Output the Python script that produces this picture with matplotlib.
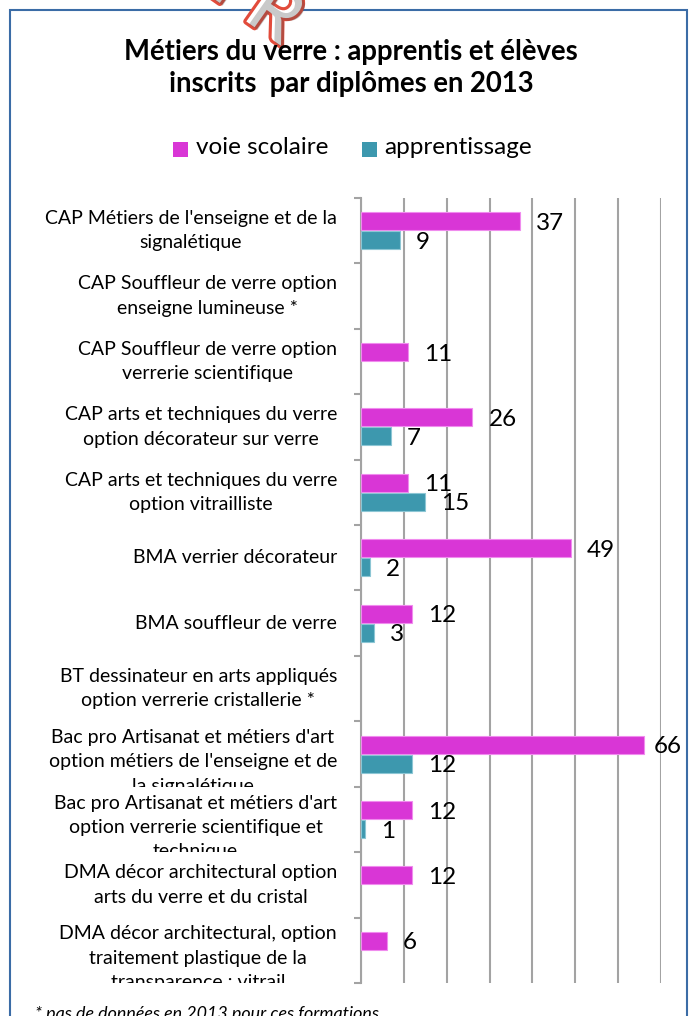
import matplotlib
matplotlib.use("Agg")
import matplotlib.pyplot as plt
import matplotlib.transforms as mtransforms
import matplotlib.patheffects as pe
from matplotlib.patches import Rectangle

plt.rcParams['font.family'] = ['Lato', 'DejaVu Sans']

# diplomas, top to bottom
diplomes = [
    "CAP Métiers de l'enseigne et de la\nsignalétique",
    "CAP Souffleur de verre option\nenseigne lumineuse *",
    "CAP Souffleur de verre option\nverrerie scientifique",
    "CAP arts et techniques du verre\noption décorateur sur verre",
    "CAP arts et techniques du verre\noption vitrailliste",
    "BMA verrier décorateur",
    "BMA souffleur de verre",
    "BT dessinateur en arts appliqués\noption verrerie cristallerie *",
    "Bac pro Artisanat et métiers d'art\noption métiers de l'enseigne et de\nla signalétique",
    "Bac pro Artisanat et métiers d'art\noption verrerie scientifique et\ntechnique",
    "DMA décor architectural option\narts du verre et du cristal",
    "DMA décor architectural, option\ntraitement plastique de la\ntransparence : vitrail",
]
voie_scolaire = [37, None, 11, 26, 11, 49, 12, None, 66, 12, 12, 6]
apprentissage = [9, None, None, 7, 15, 2, 3, None, 12, 1, None, None]

PINK = '#D936D6'
TEAL = '#3D98AE'
W, H = 690, 1016
AX_L, AX_R, AX_T, AX_B = 361, 661, 198, 983
XMAX = 70

fig = plt.figure(figsize=(W / 100, H / 100), dpi=100)

def fx(px):
    return px / W

def fy(py):
    return 1 - py / H

# chart frame
fig.patches.append(Rectangle((fx(10), fy(1030)), fx(687) - fx(10), fy(10) - fy(1030),
                             transform=fig.transFigure, fill=False,
                             edgecolor='#3B6CA6', lw=1.5, zorder=0))

# logo partly out of frame at the top
fig.text(fx(256), fy(2), "FR", fontsize=54, fontweight='bold', color='white',
         rotation=-35, ha='center', va='center', zorder=1,
         path_effects=[pe.withStroke(linewidth=4.5, foreground='#E24B3B'),
                       pe.SimplePatchShadow(offset=(2, -2), alpha=0.3)])

# title
fig.text(fx(351), fy(68), "Métiers du verre : apprentis et élèves\ninscrits  par diplômes en 2013",
         fontsize=19.8, fontweight='bold', ha='center', va='center', linespacing=1.25)

# legend
leg_y = fy(147)
for sx, tx, col, lab in [(173, 196, PINK, "voie scolaire"), (362, 384, TEAL, "apprentissage")]:
    fig.patches.append(Rectangle((fx(sx), fy(157)), fx(15), 15 / H,
                                 transform=fig.transFigure, facecolor=col, edgecolor='none'))
    fig.text(fx(tx), leg_y, lab, fontsize=17.5, ha='left', va='center')

# plot area
ax = fig.add_axes([fx(AX_L), fy(AX_B), fx(AX_R) - fx(AX_L), (AX_B - AX_T) / H])
n = len(diplomes)
bar_h = 0.275
px_per_unit = (AX_R - AX_L) / XMAX


def value_label(v, y):
    # labels sit 16 px right of the bar, pulled back if they would leave the frame
    end_px = AX_L + v * px_per_unit
    off_px = min(16, 654 - end_px)
    ax.annotate(str(v), (v, y), xytext=(off_px * 0.72, -1.5), textcoords='offset points',
                ha='left', va='center', fontsize=17.5, zorder=4)


for i in range(n):
    s = voie_scolaire[i]
    a = apprentissage[i]
    if s is not None:
        ax.barh(i - 0.145, s, height=bar_h, color=PINK, edgecolor='#F08CEE', lw=0.8, zorder=3)
        value_label(s, i - 0.145)
    if a is not None:
        ax.barh(i + 0.145, a, height=bar_h, color=TEAL, edgecolor='#8CC6D4', lw=0.8, zorder=3)
        value_label(a, i + 0.145)

ax.set_xlim(0, XMAX)
ax.set_ylim(n - 0.5, -0.5)
ax.set_xticks(range(0, XMAX + 1, 10))
ax.grid(axis='x', color='#A3A3A3', lw=1.5, zorder=1)
ax.tick_params(axis='x', length=0, labelbottom=False)
ax.set_yticks([k - 0.5 for k in range(n + 1)])
ax.tick_params(axis='y', length=5, width=1.5, color='#A3A3A3', labelleft=False)
for side in ['top', 'right', 'bottom']:
    ax.spines[side].set_visible(False)
ax.spines['left'].set_color('#A3A3A3')
ax.spines['left'].set_linewidth(1.5)

# category labels, each clipped to its own band
lab_tr = mtransforms.blended_transform_factory(fig.transFigure, ax.transData)
for i, lab in enumerate(diplomes):
    nlines = lab.count('\n') + 1
    yoff = 0.12 * max(nlines - 2, 0)
    t = fig.text(fx(337), i + yoff, lab, transform=lab_tr, fontsize=14,
                 ha='right', va='center', multialignment='center', linespacing=1.52)
    clip = Rectangle((0, i - 0.5), 1, 1, transform=lab_tr)
    t.set_clip_path(clip)

# footnote, cut at the bottom edge
fig.text(fx(35), fy(1014), "* pas de données en 2013 pour ces formations",
         fontsize=12.9, style='italic', ha='left', va='center')

fig.savefig('out.png', dpi=100)
